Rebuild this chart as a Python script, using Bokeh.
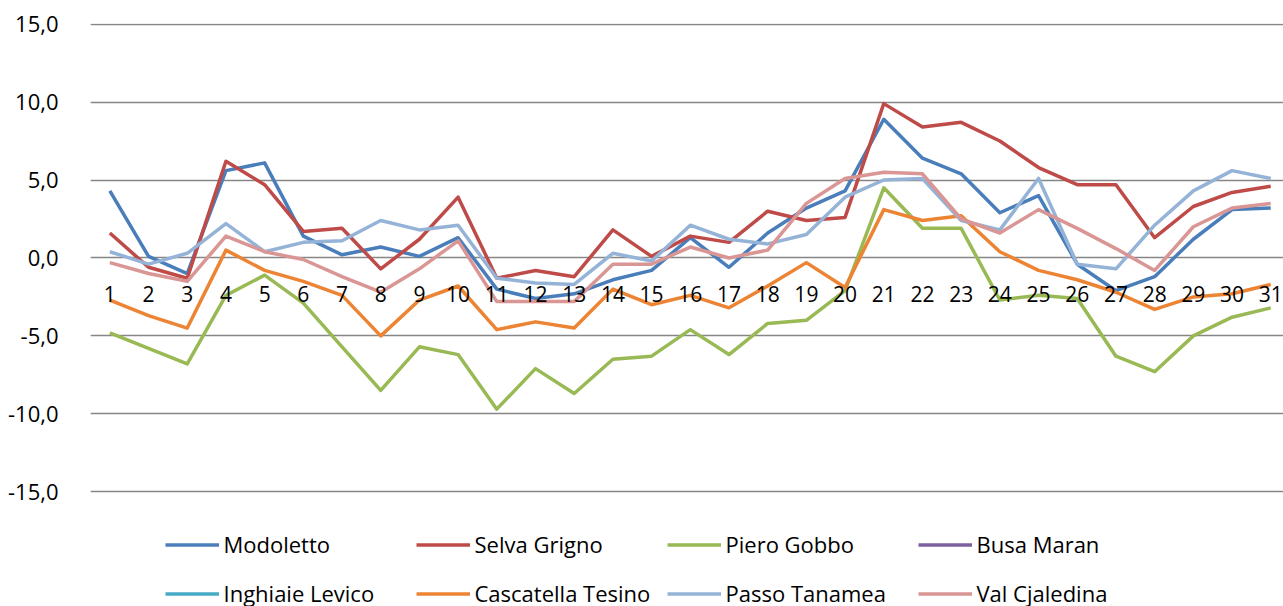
from bokeh.plotting import figure
from bokeh.models import ColumnDataSource, Legend, LegendItem, FixedTicker, Range1d
from bokeh.core.properties import value
from bokeh.embed import file_html
from bokeh.resources import INLINE

days = list(range(1, 32))
x_labels = [str(d) for d in days]

y_ticks = [-15, -10, -5, 0, 5, 10, 15]
y_tick_labels = ["-15,0", "-10,0", "-5,0", "0,0", "5,0", "10,0", "15,0"]

series_names = ["Modoletto", "Selva Grigno", "Piero Gobbo", "Busa Maran",
                "Inghiaie Levico", "Cascatella Tesino", "Passo Tanamea", "Val Cjaledina"]

modoletto = [4.3, 0.1, -1.0, 5.6, 6.1, 1.4, 0.2, 0.7, 0.1, 1.3, -2.0, -2.6, -2.3, -1.4, -0.8, 1.3,
             -0.6, 1.6, 3.2, 4.3, 8.9, 6.4, 5.4, 2.9, 4.0, -0.4, -2.1, -1.2, 1.2, 3.1, 3.2]
selva_grigno = [1.6, -0.6, -1.3, 6.2, 4.7, 1.7, 1.9, -0.7, 1.2, 3.9, -1.3, -0.8, -1.2, 1.8, 0.1, 1.4,
                1.0, 3.0, 2.4, 2.6, 9.9, 8.4, 8.7, 7.5, 5.8, 4.7, 4.7, 1.3, 3.3, 4.2, 4.6]
piero_gobbo = [-4.8, -5.8, -6.8, -2.4, -1.1, -2.9, -5.7, -8.5, -5.7, -6.2, -9.7, -7.1, -8.7, -6.5, -6.3, -4.6,
               -6.2, -4.2, -4.0, -2.1, 4.5, 1.9, 1.9, -2.7, -2.4, -2.6, -6.3, -7.3, -5.0, -3.8, -3.2]
busa_maran = [float("nan")] * 31
inghiaie_levico = [float("nan")] * 31
cascatella_tesino = [-2.7, -3.7, -4.5, 0.5, -0.8, -1.5, -2.4, -5.0, -2.7, -1.8, -4.6, -4.1, -4.5, -2.0, -3.0, -2.4,
                     -3.2, -1.8, -0.3, -1.9, 3.1, 2.4, 2.7, 0.4, -0.8, -1.4, -2.2, -3.3, -2.5, -2.3, -1.7]
passo_tanamea = [0.4, -0.4, 0.3, 2.2, 0.4, 1.0, 1.1, 2.4, 1.8, 2.1, -1.3, -1.6, -1.7, 0.3, -0.2, 2.1,
                 1.2, 0.9, 1.5, 3.9, 5.0, 5.1, 2.4, 1.8, 5.1, -0.4, -0.7, 2.1, 4.3, 5.6, 5.1]
val_cjaledina = [-0.3, -1.0, -1.5, 1.4, 0.4, -0.1, -1.2, -2.2, -0.7, 1.1, -2.8, -2.8, -2.8, -0.4, -0.4, 0.7,
                 0.0, 0.5, 3.5, 5.1, 5.5, 5.4, 2.5, 1.6, 3.1, 1.9, 0.6, -0.8, 2.0, 3.2, 3.5]

series_values = [modoletto, selva_grigno, piero_gobbo, busa_maran,
                 inghiaie_levico, cascatella_tesino, passo_tanamea, val_cjaledina]
colors = ["#4A7EBB", "#BE4B48", "#98B954", "#7D60A0",
          "#46AAC5", "#EC8434", "#95B3D7", "#D99694"]

FONT = "Open Sans"

# frame spans the whole lower area so the legend (drawn inside it) is not clipped
p = figure(width=1283, height=606, output_backend="svg", toolbar_location=None,
           x_range=Range1d(0.5, 31.33), y_range=Range1d(-22.36, 15.04),
           min_border_left=90, min_border_right=0, min_border_top=23, min_border_bottom=0)
p.outline_line_color = None
p.background_fill_color = "white"
p.border_fill_color = "white"

p.xaxis.visible = False
p.xgrid.visible = False

p.yaxis.ticker = FixedTicker(ticks=y_ticks)
p.yaxis.major_label_overrides = {t: l for t, l in zip(y_ticks, y_tick_labels)}
p.yaxis.axis_line_color = None
p.yaxis.major_tick_line_color = None
p.yaxis.minor_tick_line_color = None
p.yaxis.major_label_standoff = 26
p.yaxis.major_label_text_font = FONT
p.yaxis.major_label_text_font_size = "22px"
p.yaxis.major_label_text_color = "black"

p.ygrid.ticker = FixedTicker(ticks=y_ticks)
p.ygrid.grid_line_color = "#868686"
p.ygrid.grid_line_width = 1.5

items = []
for name, vals, col in zip(series_names, series_values, colors):
    src = ColumnDataSource(dict(x=days, y=vals))
    r = p.line("x", "y", source=src, line_color=col, line_width=3.5, line_join="round")
    items.append(LegendItem(label=name, renderers=[r]))

lbl_src = ColumnDataSource(dict(x=days, y=[0] * len(days), t=x_labels))
p.text("x", "y", text="t", source=lbl_src, text_font=value(FONT), text_font_size="21px",
       text_align="center", text_baseline="middle", y_offset=36, text_color="black")

legend = Legend(items=items, orientation="horizontal", ncols=4,
                location=(74.5, -8.5),
                glyph_width=54, glyph_height=43, label_height=43, label_width=186,
                label_standoff=5, spacing=6, padding=0, margin=0,
                border_line_color=None, background_fill_alpha=0,
                label_text_font=FONT, label_text_font_size="22px", label_text_color="black")
p.add_layout(legend, "center")

open("out.html", "w").write(file_html(p, INLINE))
